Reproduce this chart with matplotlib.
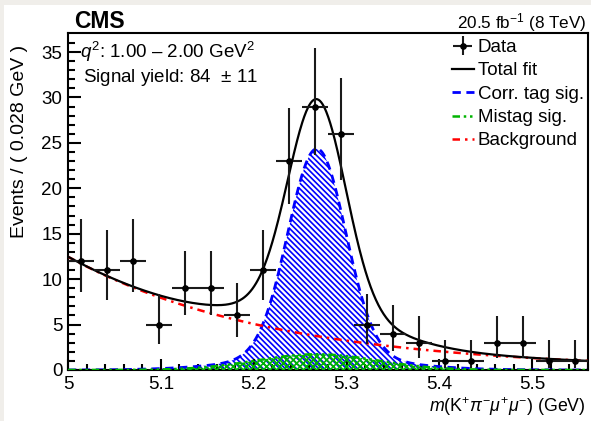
import numpy as np
import matplotlib
matplotlib.use("Agg")
import matplotlib.pyplot as plt
from matplotlib.lines import Line2D
from matplotlib.patches import Rectangle

plt.rcParams['font.family'] = ['Liberation Sans', 'DejaVu Sans']
plt.rcParams['mathtext.fontset'] = 'custom'
plt.rcParams['mathtext.rm'] = 'Liberation Sans'
plt.rcParams['mathtext.it'] = 'Liberation Sans:italic'
plt.rcParams['mathtext.bf'] = 'Liberation Sans:bold'
plt.rcParams['hatch.linewidth'] = 1.2

# ---- binned data: m(K pi mu mu), 20 bins of 0.028 GeV ----
bin_width = 0.028
mass_lo, mass_hi = 5.0, 5.56
bin_centers = mass_lo + bin_width * (np.arange(20) + 0.5)
counts = [12, 11, 12, 5, 9, 9, 6, 11, 23, 29, 26, 5, 4, 3, 1, 1, 3, 3, 1, 1]
err_low = [3.41, 3.27, 3.41, 2.16, 2.94, 2.94, 2.38, 3.27, 4.74, 5.35,
           5.06, 2.16, 1.91, 1.63, 0.83, 0.83, 1.63, 1.63, 0.83, 0.83]
err_high = [4.58, 4.43, 4.58, 3.38, 4.11, 4.11, 3.58, 4.43, 5.86, 6.47,
            6.17, 3.38, 3.16, 2.92, 2.30, 2.30, 2.92, 2.92, 2.30, 2.30]

# ---- fit model parameters ----
signal_yield = 84.0
signal_err = 11.0
background_yield = 91.0
mistag_fraction = 0.12
sig_mean = 5.268
core_sigma, core_fraction = 0.031, 0.86
tail_sigma = 0.08
mistag_sigma = 0.065
bkg_slope = -4.5

m = np.linspace(mass_lo, mass_hi, 800)


def norm_pdf(y):
    return y / np.trapezoid(y, m)


def gauss(x, mu, s):
    return np.exp(-0.5 * ((x - mu) / s) ** 2)


corr_shape = norm_pdf(core_fraction * norm_pdf(gauss(m, sig_mean, core_sigma))
                      + (1 - core_fraction) * norm_pdf(gauss(m, sig_mean, tail_sigma)))
mistag_shape = norm_pdf(gauss(m, sig_mean, mistag_sigma))
bkg_shape = norm_pdf(np.exp(bkg_slope * (m - mass_lo)))

corr_curve = signal_yield * (1 - mistag_fraction) * bin_width * corr_shape
mistag_curve = signal_yield * mistag_fraction * bin_width * mistag_shape
bkg_curve = background_yield * bin_width * bkg_shape
total_curve = corr_curve + mistag_curve + bkg_curve

# ---- figure ----
W, H = 591, 421
fig = plt.figure(figsize=(W / 100, H / 100), dpi=100)
fig.add_artist(Rectangle((0, 1 - 5 / H), 1, 5 / H, transform=fig.transFigure,
                         color='#f0eeea', lw=0, zorder=-5))
fig.add_artist(Rectangle((0, 0), 4 / W, 1, transform=fig.transFigure,
                         color='#f0eeea', lw=0, zorder=-5))

ax = fig.add_axes([68 / W, 1 - 370 / H, 520 / W, 337 / H])

blue = '#0000ff'
green = '#00b400'
red = '#ff0000'
fs = 13.5

ax.fill_between(m, 0, corr_curve, facecolor='none', edgecolor=blue,
                hatch='\\' * 6, lw=0, zorder=1)
ax.plot(m, corr_curve, color=blue, lw=2.0, ls=(0, (3, 2)), zorder=2)
ax.fill_between(m, 0, mistag_curve, facecolor='none', edgecolor=green,
                hatch='x' * 5, lw=0, zorder=3)
ax.plot(m, mistag_curve, color=green, lw=1.8, ls=(0, (3, 1.5, 1, 1.5, 1, 1.5)), zorder=3)
ax.plot(m, bkg_curve, color=red, lw=1.8, ls=(0, (3, 2, 1, 2)), zorder=4)
ax.plot(m, total_curve, color='black', lw=1.6, zorder=5)

data_handle = ax.errorbar(bin_centers, counts, yerr=[err_low, err_high],
                          xerr=bin_width / 2, fmt='o', ms=3.8, color='black',
                          ecolor='#1a1a1a', elinewidth=1.5, capsize=0, zorder=6)

ax.set_xlim(mass_lo, mass_hi)
ax.set_ylim(0, 37.1)
ax.set_xticks([5.0, 5.1, 5.2, 5.3, 5.4, 5.5])
ax.set_xticklabels(['5', '5.1', '5.2', '5.3', '5.4', '5.5'])
ax.set_xticks(np.arange(5.0, 5.561, 0.02), minor=True)
ax.set_yticks(np.arange(0, 36, 5))
ax.set_yticks(np.arange(0, 37, 1), minor=True)

for sp in ax.spines.values():
    sp.set_linewidth(1.5)
ax.tick_params(which='both', direction='in', top=False, right=False,
               labelsize=fs, width=1.5)
ax.tick_params(axis='y', which='major', length=9.5, pad=4)
ax.tick_params(axis='y', which='minor', length=5)
ax.tick_params(axis='x', which='major', length=8, pad=4)
ax.tick_params(axis='x', which='minor', length=4)

# ---- texts ----
fig.text(74 / W, 1 - 28 / H, 'CMS', fontsize=16.5, fontweight='bold',
         ha='left', va='baseline')
fig.text(586 / W, 1 - 28 / H, r'20.5 fb$^{-1}$ (8 TeV)', fontsize=12.3,
         ha='right', va='baseline')
fig.text(80 / W, 1 - 58 / H, r'$q^2$: 1.00 – 2.00 GeV$^2$', fontsize=fs,
         ha='left', va='baseline')
fig.text(83 / W, 1 - 82 / H, 'Signal yield: %d  $\\pm$ %d' % (signal_yield, signal_err),
         fontsize=fs, ha='left', va='baseline')
fig.text(20 / W, 1 - 45 / H, 'Events / ( 0.028 GeV )', fontsize=14,
         rotation=90, ha='center', va='top')
fig.text(586 / W, 1 - 412 / H,
         r'$m$(K$^{+}$$\pi^{-}$$\mu^{+}$$\mu^{-}$) (GeV)', fontsize=12.8,
         ha='right', va='baseline')

handles = [
    data_handle,
    Line2D([], [], color='black', lw=1.6),
    Line2D([], [], color=blue, lw=2.0, ls=(0, (3, 2))),
    Line2D([], [], color=green, lw=1.8, ls=(0, (3, 1.5, 1, 1.5, 1, 1.5))),
    Line2D([], [], color=red, lw=1.8, ls=(0, (3, 2, 1, 2))),
]
labels = ['Data', 'Total fit', 'Corr. tag sig.', 'Mistag sig.', 'Background']
fig.legend(handles, labels, loc='upper left', bbox_to_anchor=(452 / W, 1 - 39 / H),
           bbox_transform=fig.transFigure, frameon=False, fontsize=13.5,
           borderpad=0, borderaxespad=0, handlelength=1.15, handletextpad=0.22,
           labelspacing=0.33)

fig.savefig('out.png', dpi=100)
